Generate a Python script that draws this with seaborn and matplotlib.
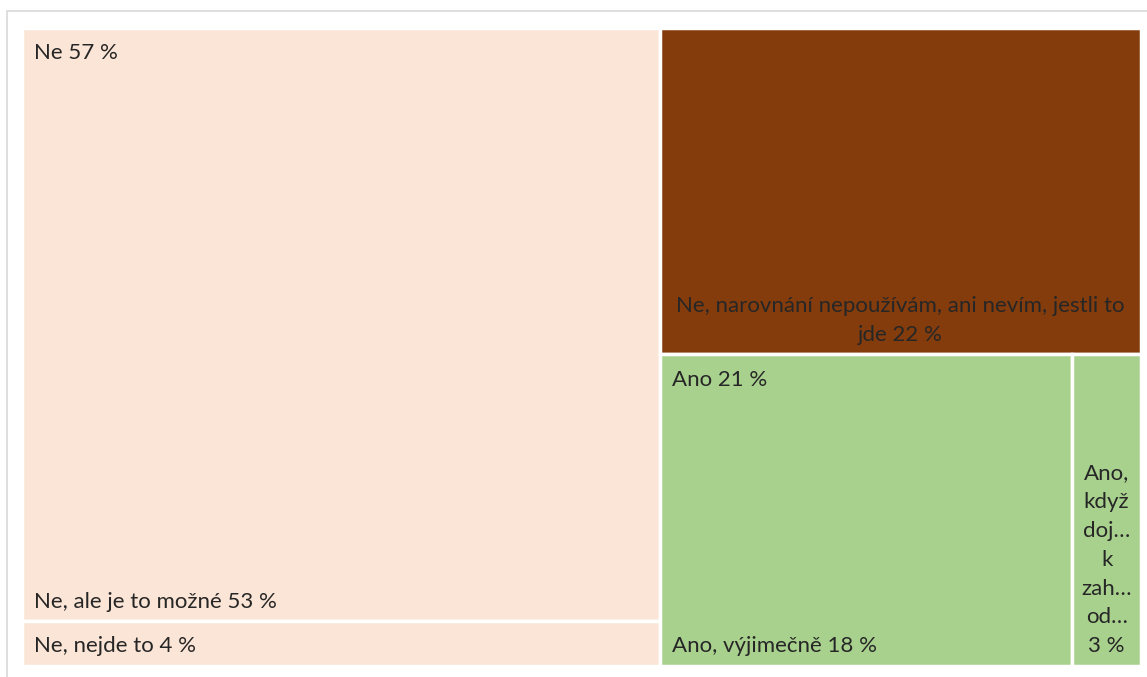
import textwrap
import matplotlib
matplotlib.use('Agg')
import matplotlib.pyplot as plt
from matplotlib.patches import Rectangle
import seaborn as sns

# data
groups = ['Ne', 'Ne, narovnání nepoužívám, ani nevím, jestli to jde', 'Ano']
group_colors = ['#FBE5D6', '#843C0C', '#A9D18E']
leaf_group = [0, 0, 1, 2, 2]
leaves = ['Ne, ale je to možné', 'Ne, nejde to',
          'Ne, narovnání nepoužívám, ani nevím, jestli to jde',
          'Ano, výjimečně', 'Ano, když doj… k zah… od…']
values = [53, 4, 22, 18, 3]

sns.set_theme(style='white')
plt.rcParams['font.family'] = ['Lato', 'DejaVu Sans']

W, H = 1147, 677
fig = plt.figure(figsize=(W / 100, H / 100), dpi=100)
fig.patches.append(Rectangle((7 / W, -0.1), 1.2, (677 - 11) / H + 0.1, transform=fig.transFigure,
                             facecolor='none', edgecolor='#D9D9D9', linewidth=1.2))
ax = fig.add_axes([22 / W, 11 / H, 1119 / W, 638 / H])

group_tot = [sum(v for v, g in zip(values, leaf_group) if g == i) for i in range(len(groups))]
total = sum(group_tot)
txt = '#262626'
fs = 16
ls = 1.55

# first group fills the left column, stacked vertically
x0, w0 = 0, group_tot[0] / total
y = 1.0
for v, g, name in zip(values, leaf_group, leaves):
    if g != 0:
        continue
    h = v / group_tot[0]
    ax.add_patch(Rectangle((x0, y - h), w0, h, facecolor=group_colors[0], edgecolor='white', linewidth=2.5))
    ax.annotate(f'{name} {v} %', (x0, y - h), xytext=(9, 7), textcoords='offset points',
                ha='left', va='bottom', fontsize=fs, color=txt)
    y -= h
ax.annotate(f'{groups[0]} {group_tot[0]} %', (x0, 1), xytext=(9, -11), textcoords='offset points',
            ha='left', va='top', fontsize=fs, color=txt)

# remaining groups stacked in the right column, leaves side by side
rest = sum(group_tot[1:])
y = 1.0
for gi in range(1, len(groups)):
    gh = group_tot[gi] / rest
    x = w0
    gw = 1 - w0
    items = [(v, n) for v, g, n in zip(values, leaf_group, leaves) if g == gi]
    for v, name in items:
        w = gw * v / group_tot[gi]
        ax.add_patch(Rectangle((x, y - gh), w, gh, facecolor=group_colors[gi], edgecolor='white', linewidth=2.5))
        if len(items) == 1:
            label = '\n'.join(textwrap.wrap(f'{name} {v} %', 48))
            ax.annotate(label, (x + w / 2, y - gh), xytext=(0, 7), textcoords='offset points',
                        ha='center', va='bottom', fontsize=fs, color=txt, linespacing=ls)
        elif w < 0.1:
            label = '\n'.join(name.split() + [f'{v} %'])
            ax.annotate(label, (x + w / 2, y - gh), xytext=(0, 7), textcoords='offset points',
                        ha='center', va='bottom', fontsize=fs, color=txt, linespacing=ls)
        else:
            ax.annotate(f'{name} {v} %', (x, y - gh), xytext=(9, 7), textcoords='offset points',
                        ha='left', va='bottom', fontsize=fs, color=txt)
        x += w
    if len(items) > 1:
        ax.annotate(f'{groups[gi]} {group_tot[gi]} %', (w0, y), xytext=(9, -11), textcoords='offset points',
                    ha='left', va='top', fontsize=fs, color=txt)
    y -= gh

ax.set_xlim(0, 1)
ax.set_ylim(0, 1)
ax.axis('off')
fig.savefig('out.png', dpi=100)
